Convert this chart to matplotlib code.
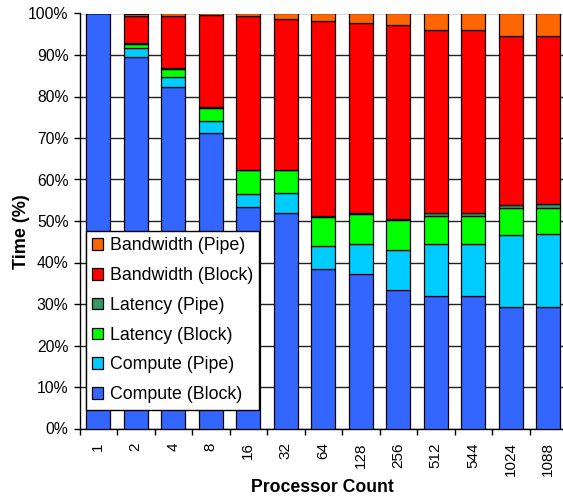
import matplotlib
matplotlib.use("Agg")
import matplotlib.pyplot as plt
import numpy as np
from matplotlib.ticker import FixedLocator

plt.rcParams['font.family'] = ['Liberation Sans', 'DejaVu Sans']

processors = ["1", "2", "4", "8", "16", "32", "64", "128", "256", "512", "544", "1024", "1088"]

compute_block = [100.0, 89.5, 82.4, 71.2, 53.3, 52.0, 38.4, 37.3, 33.3, 31.9, 31.9, 29.3, 29.3]
compute_pipe = [0.0, 2.1, 2.4, 3.0, 3.3, 4.7, 5.5, 7.2, 9.7, 12.5, 12.5, 17.3, 17.6]
latency_block = [0.0, 1.1, 1.9, 3.1, 5.7, 5.6, 7.1, 7.2, 7.3, 6.8, 6.8, 6.5, 6.2]
latency_pipe = [0.0, 0.1, 0.1, 0.1, 0.1, 0.1, 0.3, 0.3, 0.2, 0.8, 0.8, 0.8, 1.1]
bandwidth_block = [0.0, 6.7, 12.7, 22.2, 36.9, 36.2, 46.8, 45.8, 46.7, 44.1, 44.1, 40.7, 40.4]
bandwidth_pipe = [0.0, 0.5, 0.5, 0.4, 0.7, 1.4, 1.9, 2.2, 2.8, 3.9, 3.9, 5.4, 5.4]

series = [
    ("Compute (Block)", compute_block, "#3366FF"),
    ("Compute (Pipe)", compute_pipe, "#00CCFF"),
    ("Latency (Block)", latency_block, "#00FF00"),
    ("Latency (Pipe)", latency_pipe, "#339966"),
    ("Bandwidth (Block)", bandwidth_block, "#FF0000"),
    ("Bandwidth (Pipe)", bandwidth_pipe, "#FF6600"),
]

W, H = 563, 499
fig = plt.figure(figsize=(W / 100, H / 100), dpi=100)
# plot area runs slightly past the right edge of the canvas
ax = fig.add_axes([79.5 / W, 1 - 428.5 / H, 487.5 / W, 415 / H])

x = np.arange(len(processors))
bottom = np.zeros(len(processors))
handles = []
for name, vals, color in series:
    vals = np.array(vals)
    b = ax.bar(x, vals, 0.64, bottom=bottom, color=color, edgecolor="black",
               linewidth=0.9, label=name, zorder=3)
    handles.append(b)
    bottom += vals

ax.set_xlim(-0.5, len(processors) - 0.5)
ax.set_ylim(0, 100)
ax.set_yticks(np.arange(0, 101, 10))
ax.set_yticklabels([f"{v}%" for v in range(0, 101, 10)], fontsize=11.3)
ax.yaxis.grid(True, color="#222222", linewidth=1.0, zorder=0)
ax.set_axisbelow(True)

ax.set_xticks(x)
ax.set_xticklabels(processors, rotation=90, fontsize=11)
ax.tick_params(axis="x", which="major", length=0, pad=10)
ax.xaxis.set_minor_locator(FixedLocator(np.arange(-0.5, len(processors), 1.0)))
ax.tick_params(axis="x", which="minor", length=4, width=1, direction="out")
ax.tick_params(axis="y", length=4, width=1, direction="out", pad=4)

for side in ["top", "right"]:
    ax.spines[side].set_visible(False)
for side in ["left", "bottom"]:
    ax.spines[side].set_linewidth(1.0)

fig.text(322 / W, 1 - 487 / H, "Processor Count", fontsize=12.7,
         fontweight="bold", ha="center", va="center")
fig.text(21.5 / W, 1 - 232 / H, "Time (%)", fontsize=13, fontweight="bold",
         rotation=90, ha="center", va="center")

leg = ax.legend(handles[::-1], [s[0] for s in series][::-1], loc="lower left",
                bbox_to_anchor=(6 / 487.5, 19 / 415), borderaxespad=0,
                fontsize=12.8, frameon=True,
                fancybox=False, edgecolor="black", framealpha=1,
                handlelength=0.62, handleheight=0.62, handletextpad=0.4,
                labelspacing=0.72, borderpad=0.35)
leg.get_frame().set_linewidth(1.0)
leg.set_zorder(5)

fig.savefig("out.png", dpi=100)
